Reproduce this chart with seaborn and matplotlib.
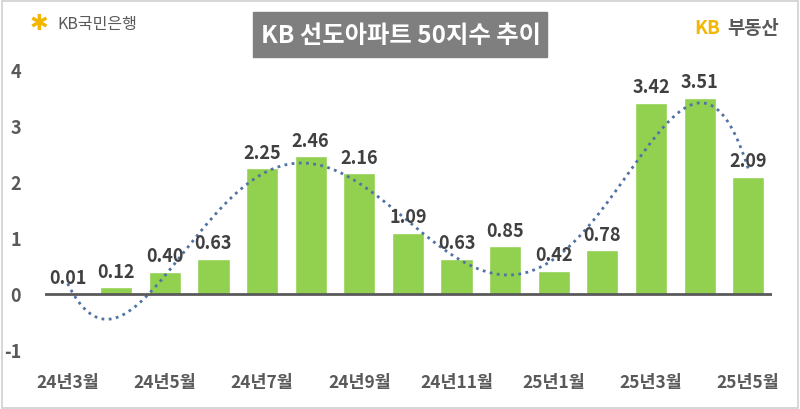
import numpy as np
import pandas as pd
import seaborn as sns
import matplotlib.pyplot as plt
from matplotlib.patches import Rectangle

months = ['24년3월', '24년4월', '24년5월', '24년6월', '24년7월', '24년8월', '24년9월',
          '24년10월', '24년11월', '24년12월', '25년1월', '25년2월', '25년3월', '25년4월', '25년5월']
values = [0.01, 0.12, 0.40, 0.63, 2.25, 2.46, 2.16, 1.09, 0.63, 0.85, 0.42, 0.78, 3.42, 3.51, 2.09]
# dotted trend line at each month
trend = [0.20, -0.46, 0.37, 1.38, 2.15, 2.31, 2.00, 1.26, 0.67, 0.37, 0.67, 1.38, 2.81, 3.39, 2.24]
y_ticks = [-1, 0, 1, 2, 3, 4]

sns.set_theme(style='white')
plt.rcParams['font.family'] = ['Noto Sans CJK KR', 'DejaVu Sans']

df = pd.DataFrame({'month': months, 'value': values})

fig = plt.figure(figsize=(8, 4.09), dpi=100)
ax = fig.add_axes([0.056, 0.103, 0.909, 0.753])

sns.barplot(data=df, x='month', y='value', color='#92d050', saturation=1,
            width=0.66, ax=ax)

# smooth polynomial trend (Excel style) through the read trend points
idx = np.arange(len(trend))
coef = np.polyfit(idx, trend, 6)
xs = np.linspace(0, len(trend) - 1, 300)
sns.lineplot(x=xs, y=np.polyval(coef, xs), ax=ax, color='#4f73a3',
             linestyle=(0, (1, 1.6)), linewidth=2)

ax.axhline(0, color='#595959', linewidth=2, zorder=3)

for i, v in enumerate(values):
    ax.annotate(f'{v:.2f}', (i, v), xytext=(0, 4), textcoords='offset points',
                ha='center', va='bottom', fontsize=13, fontweight='bold',
                color='#404040')

ax.set_xlim(-0.47, 14.49)
ax.set_ylim(-1.3, 4.2)
ax.set_yticks(y_ticks)
ax.set_yticklabels([str(t) for t in y_ticks], fontweight='bold')
ax.set_xticks(range(0, len(months), 2))
ax.set_xticklabels(months[::2], fontweight='bold')
ax.tick_params(axis='y', length=0, pad=17, labelsize=13, labelcolor='#595959')
ax.tick_params(axis='x', length=0, pad=5, labelsize=12.5, labelcolor='#595959')
ax.set_xlabel('')
ax.set_ylabel('')
for s in ax.spines.values():
    s.set_visible(False)

# title box
fig.patches.append(Rectangle((253 / 800, 1 - 57 / 409), 294 / 800, 45 / 409,
                             transform=fig.transFigure, color='#7f7f7f', zorder=0))
fig.text(401 / 800, 1 - 36 / 409, 'KB 선도아파트 50지수 추이', ha='center', va='center',
         color='white', fontsize=17.5, fontweight='bold')

# logos
fig.text(30 / 800, 1 - 24 / 409, '✱', ha='left', va='center', color='#f2b705',
         fontsize=16, family='DejaVu Sans')
fig.text(57 / 800, 1 - 25 / 409, 'KB국민은행', ha='left', va='center',
         color='#5a5a5a', fontsize=11.5)
fig.text(694 / 800, 1 - 28 / 409, 'KB', ha='left', va='center', color='#f2b705',
         fontsize=13.5, fontweight='bold')
fig.text(727 / 800, 1 - 28 / 409, '부동산', ha='left', va='center', color='#595959',
         fontsize=13.5, fontweight='bold')

# outer border
fig.patches.append(Rectangle((0.002, 0.003), 0.996, 0.994, transform=fig.transFigure,
                             fill=False, edgecolor='#d0d0d0', linewidth=1.2))

fig.savefig('out.png', dpi=100)
